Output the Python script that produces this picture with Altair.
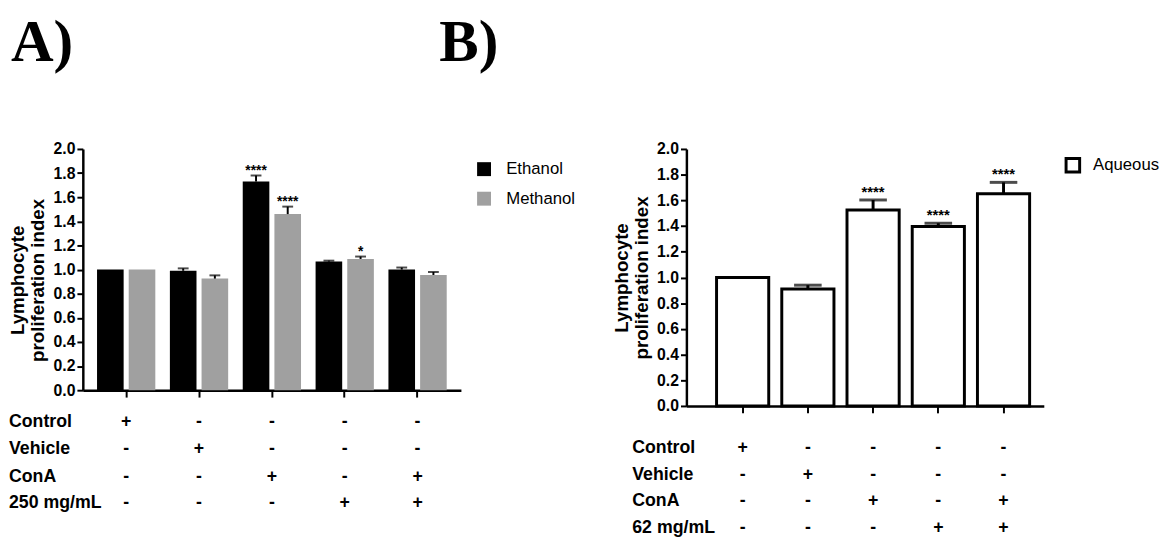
import altair as alt
import pandas as pd

# ---------------- data ----------------
groups = ["1", "2", "3", "4", "5"]
series_a = ["Ethanol", "Methanol"]
ethanol = [1.00, 0.99, 1.73, 1.066, 1.00]
ethanol_err = [0.0, 0.02, 0.05, 0.008, 0.017]
ethanol_sig = ["", "", "****", "", ""]
methanol = [1.00, 0.925, 1.46, 1.088, 0.955]
methanol_err = [0.0, 0.027, 0.062, 0.02, 0.025]
methanol_sig = ["", "", "****", "*", ""]

aqueous = [1.00, 0.91, 1.525, 1.396, 1.652]
aqueous_err = [0.0, 0.03, 0.078, 0.026, 0.088]
aqueous_sig = ["", "", "****", "****", "****"]

row_labels_a = ["Control", "Vehicle", "ConA", "250 mg/mL"]
row_labels_b = ["Control", "Vehicle", "ConA", "62 mg/mL"]
signs = [
    ["+", "-", "-", "-", "-"],
    ["-", "+", "-", "-", "-"],
    ["-", "-", "+", "-", "+"],
    ["-", "-", "-", "+", "+"],
]
y_ticks = [0.0, 0.2, 0.4, 0.6, 0.8, 1.0, 1.2, 1.4, 1.6, 1.8, 2.0]
y_title = ["Lymphocyte", "proliferation index"]

# ---------------- frames ----------------
rows = []
for s, vals, errs, sigs in [("Ethanol", ethanol, ethanol_err, ethanol_sig),
                            ("Methanol", methanol, methanol_err, methanol_sig)]:
    for g, v, e, sg in zip(groups, vals, errs, sigs):
        rows.append(dict(group=g, series=s, value=v, err=e, upper=v + e, sig=sg))
dfA = pd.DataFrame(rows)

dfB = pd.DataFrame(dict(group=groups, series=["Aqueous"] * 5, value=aqueous,
                        err=aqueous_err,
                        upper=[v + e for v, e in zip(aqueous, aqueous_err)],
                        sig=aqueous_sig))

def table_df(labels):
    r = []
    for i, lab in enumerate(labels):
        for g, sg in zip(groups, signs[i]):
            r.append(dict(row=lab, group=g, sign=sg))
    return pd.DataFrame(r)

tabA = table_df(row_labels_a)
tabB = table_df(row_labels_b)

SANS = "Liberation Sans, Arial, sans-serif"
SERIF = "Liberation Serif, Times New Roman, serif"


def y_axis(title_y=None):
    kw = dict(values=y_ticks, format=".1f", title=y_title, grid=False,
              domainColor="black", domainWidth=2.5, tickColor="black",
              tickWidth=2, tickSize=6, labelPadding=2, labelFont=SANS,
              labelFontWeight="bold", labelFontSize=16, labelColor="black",
              titleFont=SANS, titleFontWeight="bold", titleFontSize=19,
              titleColor="black", titleLineHeight=20, titleBaseline="alphabetic",
              titleX=-60)
    if title_y is not None:
        kw["titleY"] = title_y
    return alt.Axis(**kw)


x_axis = alt.Axis(labels=False, title=None, grid=False, domainColor="black",
                  domainWidth=2.5, tickColor="black", tickWidth=2, tickSize=7)

# ---------------- panel A ----------------
WA, HA = 384, 245
scA = alt.Scale(paddingInner=0.2, paddingOuter=0.195)
xA = alt.X("group:N", sort=groups, scale=scA, axis=x_axis)
xoffA = alt.XOffset("series:N", sort=series_a,
                    scale=alt.Scale(paddingInner=0.16, paddingOuter=0))
yscale = alt.Scale(domain=[0, 2], nice=False)
axA = y_axis(133)

barsA = alt.Chart(dfA).mark_bar().encode(
    x=xA, xOffset=xoffA, y=alt.Y("value:Q", scale=yscale, axis=axA),
    color=alt.Color("series:N", sort=series_a,
                    scale=alt.Scale(domain=series_a, range=["#000000", "#a0a0a0"]),
                    legend=alt.Legend(orient="none", legendX=399, legendY=12,
                                      title=None, symbolType="square",
                                      symbolSize=200, symbolStrokeWidth=0,
                                      labelFont=SANS, labelFontSize=17,
                                      labelColor="black", labelOffset=14,
                                      rowPadding=12)))

errA = alt.Chart(dfA).transform_filter("datum.err > 0").mark_rule(
    color="black", strokeWidth=2).encode(
    x=xA, xOffset=xoffA, y=alt.Y("value:Q", scale=yscale, axis=axA),
    y2="upper:Q")

capA = alt.Chart(dfA).transform_filter("datum.err > 0").mark_tick(
    color="black", thickness=2, size=11).encode(
    x=xA, xOffset=xoffA, y=alt.Y("upper:Q", scale=yscale, axis=axA))

starA = alt.Chart(dfA).mark_text(fontSize=14, fontWeight="bold", font=SANS,
                                 baseline="alphabetic", dy=-1,
                                 color="black").encode(
    x=xA, xOffset=xoffA, y=alt.Y("upper:Q", scale=yscale, axis=axA),
    text="sig:N")

layersA = [barsA, errA, capA, starA]
row_y_A = [277, 305, 333, 360]
for lab, yy in zip(row_labels_a, row_y_A):
    sub = tabA[tabA["row"] == lab]
    layersA.append(alt.Chart(sub).mark_text(font=SANS, fontWeight="bold",
                                            fontSize=18, color="black",
                                            baseline="middle").encode(
        x=xA, y=alt.value(yy), text="sign:N"))
    layersA.append(alt.Chart(pd.DataFrame({"t": [lab]})).mark_text(
        font=SANS, fontWeight="bold", fontSize=18, color="black",
        align="left", baseline="middle").encode(
        x=alt.value(-75), y=alt.value(yy), text="t:N"))

for t, px in zip(["A)", "B)"], [-73, 362]):
    layersA.append(alt.Chart(pd.DataFrame({"t": [t]})).mark_text(
        font=SERIF, fontWeight="bold", fontSize=60, color="black",
        align="left", baseline="top").encode(
        x=alt.value(px), y=alt.value(-136), text="t:N"))

panelA = alt.layer(*layersA).properties(width=WA, height=HA)

# ---------------- panel B ----------------
WB, HB = 363, 261
scB = alt.Scale(paddingInner=0.2, paddingOuter=0.34, align=0.68)
xB = alt.X("group:N", sort=groups, scale=scB, axis=x_axis)
axB = y_axis()

barsB = alt.Chart(dfB).mark_bar(stroke="black", strokeWidth=3).encode(
    x=xB, y=alt.Y("value:Q", scale=yscale, axis=axB),
    color=alt.Color("series:N",
                    scale=alt.Scale(domain=["Aqueous"], range=["#ffffff"]),
                    legend=alt.Legend(orient="none", legendX=384, legendY=8,
                                      title=None, symbolType="square",
                                      symbolSize=190, symbolStrokeColor="black",
                                      symbolStrokeWidth=3,
                                      symbolFillColor="#ffffff",
                                      labelFont=SANS, labelFontSize=17,
                                      labelColor="black", labelOffset=12)))

errB = alt.Chart(dfB).transform_filter("datum.err > 0").mark_rule(
    color="black", strokeWidth=3).encode(
    x=xB, y=alt.Y("value:Q", scale=yscale, axis=axB), y2="upper:Q")

capB = alt.Chart(dfB).transform_filter("datum.err > 0").mark_tick(
    color="black", thickness=3, size=28).encode(
    x=xB, y=alt.Y("upper:Q", scale=yscale, axis=axB))

starB = alt.Chart(dfB).mark_text(fontSize=15, fontWeight="bold", font=SANS,
                                 baseline="alphabetic", dy=-3,
                                 color="black").encode(
    x=xB, y=alt.Y("upper:Q", scale=yscale, axis=axB), text="sig:N")

layersB = [barsB, errB, capB, starB]
row_y_B = [304, 331, 358, 385]
for lab, yy in zip(row_labels_b, row_y_B):
    sub = tabB[tabB["row"] == lab]
    layersB.append(alt.Chart(sub).mark_text(font=SANS, fontWeight="bold",
                                            fontSize=18, color="black",
                                            baseline="middle").encode(
        x=xB, y=alt.value(yy), text="sign:N"))
    layersB.append(alt.Chart(pd.DataFrame({"t": [lab]})).mark_text(
        font=SANS, fontWeight="bold", fontSize=18, color="black",
        align="left", baseline="middle").encode(
        x=alt.value(-55), y=alt.value(yy), text="t:N"))

panelB = alt.layer(*layersB).properties(width=WB, height=HB)

chart = alt.hconcat(panelA, panelB, spacing=229, bounds="flush").resolve_scale(
    color="independent", x="independent", y="independent"
).resolve_legend(color="independent").properties(
    padding={"left": 0, "top": 2, "right": 0, "bottom": 0}, background="white"
).configure_view(stroke=None).configure_axis(grid=False)

chart.save("out.html", embed_options={"renderer": "svg", "actions": False})
